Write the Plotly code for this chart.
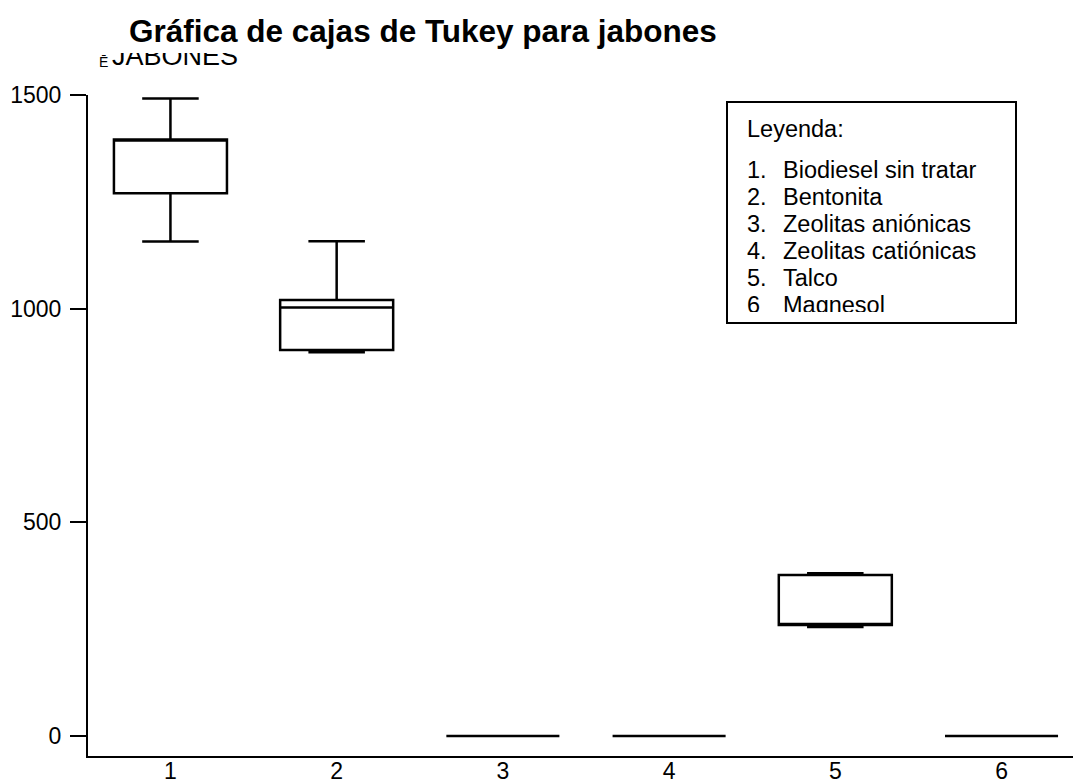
import plotly.graph_objects as go

# ---- data -------------------------------------------------------------
categories = ["1", "2", "3", "4", "5", "6"]
lower_fence = [1157, 898, 0, 0, 255, 0]
q1 = [1270, 903, 0, 0, 260, 0]
median = [1396, 1003, 0, 0, 260, 0]
q3 = [1396, 1020, 0, 0, 377, 0]
upper_fence = [1492, 1158, 0, 0, 381, 0]

y_ticks = [0, 500, 1000, 1500]

legend_title = "Leyenda:"
legend_numbers = ["1.", "2.", "3.", "4.", "5.", "6"]
legend_names = [
    "Biodiesel sin tratar",
    "Bentonita",
    "Zeolitas aniónicas",
    "Zeolitas catiónicas",
    "Talco",
    "Magnesol",
]

title_text = "Gráfica de cajas de Tukey para jabones"
y_label = "JABONES"

# ---- page geometry (pixels) -------------------------------------------
W, H = 1073, 781
FONT = "Liberation Sans, Arial, sans-serif"


def fx(px):
    return px / W


def fy(py):
    return 1 - py / H


fig = go.Figure()

fig.add_trace(go.Box(
    x=categories,
    q1=q1, median=median, q3=q3,
    lowerfence=lower_fence, upperfence=upper_fence,
    width=0.68,
    whiskerwidth=0.5,
    line=dict(color="black", width=2.5),
    fillcolor="rgba(255,255,255,0)",
    hoverinfo="skip",
    xaxis="x", yaxis="y",
))

# legend panel text, clipped to its own inset axes
row_y = [172, 199, 226, 253, 280, 307]
LEG_SIZE = 23.5
fig.add_trace(go.Scatter(
    x=[747], y=[131], mode="text", text=[legend_title],
    textposition="middle right",
    textfont=dict(family=FONT, size=LEG_SIZE, color="black"),
    cliponaxis=True, hoverinfo="skip", xaxis="x2", yaxis="y2",
))
fig.add_trace(go.Scatter(
    x=[747] * len(legend_numbers), y=row_y, mode="text", text=legend_numbers,
    textposition="middle right",
    textfont=dict(family=FONT, size=LEG_SIZE, color="black"),
    cliponaxis=True, hoverinfo="skip", xaxis="x2", yaxis="y2",
))
fig.add_trace(go.Scatter(
    x=[783] * len(legend_names), y=row_y, mode="text", text=legend_names,
    textposition="middle right",
    textfont=dict(family=FONT, size=LEG_SIZE, color="black"),
    cliponaxis=True, hoverinfo="skip", xaxis="x2", yaxis="y2",
))

# axis name at the top left, partly hidden under the title
fig.add_trace(go.Scatter(
    x=[112], y=[58], mode="text", text=[y_label],
    textposition="middle right",
    textfont=dict(family=FONT, size=27, color="black"),
    cliponaxis=True, hoverinfo="skip", xaxis="x3", yaxis="y3",
))
fig.add_trace(go.Scatter(
    x=[99], y=[63], mode="text", text=["Ē"],
    textposition="middle right",
    textfont=dict(family=FONT, size=14, color="black"),
    cliponaxis=True, hoverinfo="skip", xaxis="x3", yaxis="y3",
))

fig.update_layout(
    width=W, height=H,
    margin=dict(l=0, r=0, t=0, b=0, pad=0, autoexpand=False),
    paper_bgcolor="white", plot_bgcolor="white",
    showlegend=False,
    font=dict(family=FONT, color="black"),
    xaxis=dict(
        domain=[fx(88), 1.0],
        type="category",
        range=[-0.496, 5.43],
        showline=True, linecolor="black", linewidth=2,
        ticks="", ticklen=0, showgrid=False, zeroline=False,
        tickfont=dict(family=FONT, size=23, color="black"),
        ticklabelstandoff=-7,
        anchor="y", automargin=False,
    ),
    yaxis=dict(
        domain=[fy(756), fy(95)],
        range=[-46.8, 1500],
        tickvals=y_ticks,
        ticktext=[str(v) for v in y_ticks],
        ticks="outside", ticklen=16, tickwidth=2, tickcolor="black",
        showline=True, linecolor="black", linewidth=2,
        showgrid=False, zeroline=False,
        tickfont=dict(family=FONT, size=23, color="black"),
        ticklabelstandoff=4,
        anchor="x", automargin=False,
    ),
    xaxis2=dict(domain=[fx(727), fx(1016)], range=[727, 1016],
                visible=False, anchor="y2", fixedrange=True),
    yaxis2=dict(domain=[fy(312), fy(103)], range=[312, 103],
                visible=False, anchor="x2", fixedrange=True),
    xaxis3=dict(domain=[fx(95), fx(260)], range=[95, 260],
                visible=False, anchor="y3", fixedrange=True),
    yaxis3=dict(domain=[fy(80), fy(53)], range=[80, 53],
                visible=False, anchor="x3", fixedrange=True),
    shapes=[dict(
        type="rect", xref="paper", yref="paper",
        x0=fx(727), x1=fx(1016), y0=fy(323), y1=fy(102),
        line=dict(color="black", width=2), fillcolor="rgba(0,0,0,0)",
    )],
    annotations=[dict(
        text="<b>" + title_text + "</b>",
        xref="paper", yref="paper", x=fx(127), y=fy(31),
        xanchor="left", yanchor="middle", showarrow=False,
        font=dict(family=FONT, size=31.5, color="black"),
    )],
)

fig.write_html("out.html")
